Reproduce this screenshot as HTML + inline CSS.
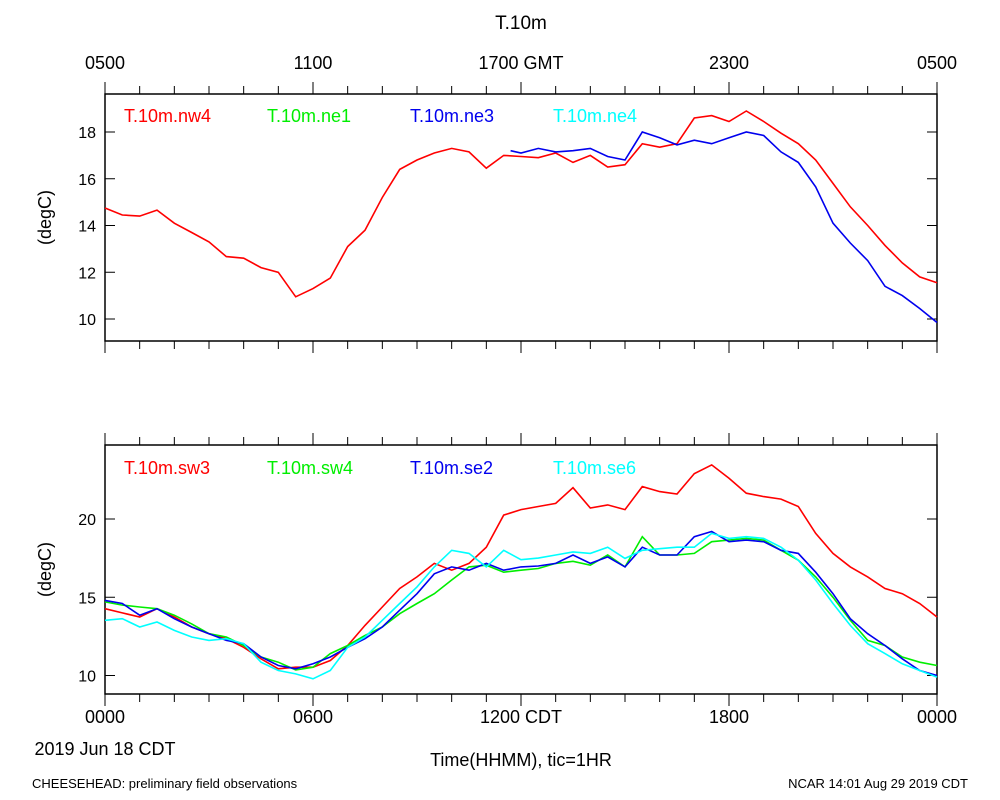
<!DOCTYPE html>
<html><head><meta charset="utf-8"><style>
body{margin:0;background:#fff;}
svg{display:block;font-family:"Liberation Sans",sans-serif;}
</style></head><body>
<svg id="chart" width="1000" height="800" viewBox="0 0 1000 800" xmlns="http://www.w3.org/2000/svg">
<text x="521" y="29" font-size="19" text-anchor="middle">T.10m</text>
<text x="521" y="766" font-size="18" text-anchor="middle">Time(HHMM), tic=1HR</text>
<text x="105" y="755" font-size="18" text-anchor="middle">2019 Jun 18 CDT</text>
<text x="32" y="788" font-size="13">CHEESEHEAD: preliminary field observations</text>
<text x="968" y="788" font-size="13" text-anchor="end">NCAR 14:01 Aug 29 2019 CDT</text>
<g id="plots"></g>
</svg>
<script>
const hours=[0,0.5,1,1.5,2,2.5,3,3.5,4,4.5,5,5.5,6,6.5,7,7.5,8,8.5,9,9.5,10,10.5,11,11.5,12,12.5,13,13.5,14,14.5,15,15.5,16,16.5,17,17.5,18,18.5,19,19.5,20,20.5,21,21.5,22,22.5,23,23.5,24];
const topTickLabels=["0500","1100","1700 GMT","2300","0500"];
const bottomTickLabels=["0000","0600","1200 CDT","1800","0000"];
const topYTicks=[10,12,14,16,18];
const bottomYTicks=[10,15,20];
const nw4=[14.75,14.45,14.4,14.66,14.1,13.7,13.3,12.67,12.6,12.2,12.0,10.95,11.3,11.75,13.1,13.8,15.2,16.4,16.8,17.1,17.3,17.15,16.45,17.0,16.95,16.9,17.1,16.7,17.0,16.5,16.6,17.5,17.35,17.5,18.6,18.7,18.45,18.9,18.45,17.95,17.5,16.8,15.8,14.8,14.0,13.15,12.4,11.8,11.55];
const ne3Hours=[11.7,12,12.5,13,13.5,14,14.5,15,15.5,16,16.5,17,17.5,18,18.5,19,19.5,20,20.5,21,21.5,22,22.5,23,23.5,24];
const ne3=[17.2,17.1,17.3,17.15,17.2,17.3,16.95,16.8,18.0,17.75,17.45,17.65,17.5,17.75,18.0,17.85,17.15,16.7,15.65,14.1,13.25,12.5,11.4,11.0,10.45,9.85];
const sw3=[14.27,14.0,13.74,14.27,13.74,13.1,12.67,12.35,11.8,11.07,10.43,10.53,10.53,10.96,11.92,13.2,14.38,15.56,16.3,17.16,16.73,17.16,18.2,20.25,20.6,20.8,21.0,22.0,20.7,20.9,20.6,22.07,21.75,21.6,22.9,23.46,22.6,21.65,21.43,21.27,20.8,19.08,17.8,16.94,16.3,15.56,15.23,14.6,13.74];
const sw4=[14.7,14.5,14.38,14.27,13.85,13.3,12.67,12.46,11.92,11.18,10.85,10.36,10.53,11.4,11.92,12.56,13.1,13.95,14.6,15.23,16.1,16.94,17.05,16.6,16.73,16.84,17.16,17.3,17.05,17.7,16.94,18.87,17.7,17.7,17.8,18.55,18.65,18.76,18.65,18.0,17.37,16.3,15.0,13.53,12.24,11.92,11.18,10.85,10.64];
const se2=[14.8,14.6,13.85,14.27,13.63,13.1,12.67,12.24,12.03,11.18,10.64,10.43,10.75,11.18,11.8,12.35,13.1,14.17,15.23,16.5,16.94,16.73,17.16,16.73,16.94,17.0,17.16,17.7,17.16,17.58,16.94,18.2,17.7,17.7,18.87,19.2,18.55,18.65,18.55,18.0,17.8,16.6,15.23,13.63,12.67,11.92,11.07,10.32,10.0];
const se6=[13.53,13.63,13.1,13.42,12.88,12.46,12.24,12.35,12.03,10.85,10.32,10.1,9.79,10.32,11.8,12.46,13.53,14.6,15.66,16.94,18.0,17.8,16.94,18.0,17.4,17.5,17.7,17.9,17.8,18.2,17.48,18.0,18.1,18.2,18.2,19.08,18.76,18.87,18.76,18.2,17.37,16.1,14.6,13.2,12.03,11.4,10.75,10.32,9.9];

const NS="http://www.w3.org/2000/svg";
const g=document.getElementById('plots');
const X0=105,X1=937;
function xs(h){return X0+(X1-X0)*h/24;}
function mk(tag,attrs,parent){const e=document.createElementNS(NS,tag);for(const k in attrs)e.setAttribute(k,attrs[k]);(parent||g).appendChild(e);return e;}

function panel(name,top,bot,ymap,yTicks,xLabels,labelY,series,legY){
  const pg=mk('g',{});
  
  
  const fr=mk('rect',{x:X0,y:top,width:X1-X0,height:bot-top,fill:'none',stroke:'#000','stroke-width':1.5},pg);
  
  
  for(let h=0;h<=24;h++){
    const L=(h%6===0)?12:8;
    const x=xs(h);
    const t1=mk('line',{x1:x,x2:x,y1:top,y2:top-L,stroke:'#000','stroke-width':1},pg);
    
    
    const t2=mk('line',{x1:x,x2:x,y1:bot,y2:bot+L,stroke:'#000','stroke-width':1},pg);
    
    
  }
  xLabels.forEach((s,i)=>{
    const t=mk('text',{x:xs(i*6),y:labelY,'font-size':18,'text-anchor':'middle'},pg);
    
    
    t.textContent=s;
  });
  yTicks.forEach(v=>{
    const y=ymap(v);
    const a=mk('line',{x1:X0,x2:X0+10,y1:y,y2:y,stroke:'#000'},pg);
    
    
    const b=mk('line',{x1:X1,x2:X1-10,y1:y,y2:y,stroke:'#000'},pg);
    
    
    const t=mk('text',{x:X0-9,y:y+6,'font-size':16,'text-anchor':'end'},pg);
    
    
    t.textContent=v;
  });
  const yl=mk('text',{x:51,y:(top+bot)/2,'font-size':18,'text-anchor':'middle',transform:`rotate(-90 51 ${(top+bot)/2})`},pg);
  
  
  yl.textContent='(degC)';
  series.forEach((s,i)=>{
    const t=mk('text',{x:124+i*143,y:legY,'font-size':18,fill:s.color},pg);
    
    
    t.textContent=s.name;
    if(!s.values)return;
    const d=s.values.map((v,j)=>(j?'L':'M')+xs(s.hours[j]).toFixed(1)+','+ymap(v).toFixed(1)).join(' ');
    const p=mk('path',{d:d,fill:'none',stroke:s.color,'stroke-width':1.6},pg);
    
    
  });
}
panel('top-panel',94,341,v=>319-(v-10)*23.375,topYTicks,topTickLabels,69,[
  {name:'T.10m.nw4',color:'#ff0000',hours:hours,values:nw4},
  {name:'T.10m.ne1',color:'#00ee00'},
  {name:'T.10m.ne3',color:'#0000ee',hours:ne3Hours,values:ne3},
  {name:'T.10m.ne4',color:'#00ffff'}],122);
panel('bottom-panel',445,694,v=>675.5-(v-10)*15.65,bottomYTicks,bottomTickLabels,723,[
  {name:'T.10m.sw3',color:'#ff0000',hours:hours,values:sw3},
  {name:'T.10m.sw4',color:'#00ee00',hours:hours,values:sw4},
  {name:'T.10m.se2',color:'#0000ee',hours:hours,values:se2},
  {name:'T.10m.se6',color:'#00ffff',hours:hours,values:se6}],474);
</script>
</body></html>
